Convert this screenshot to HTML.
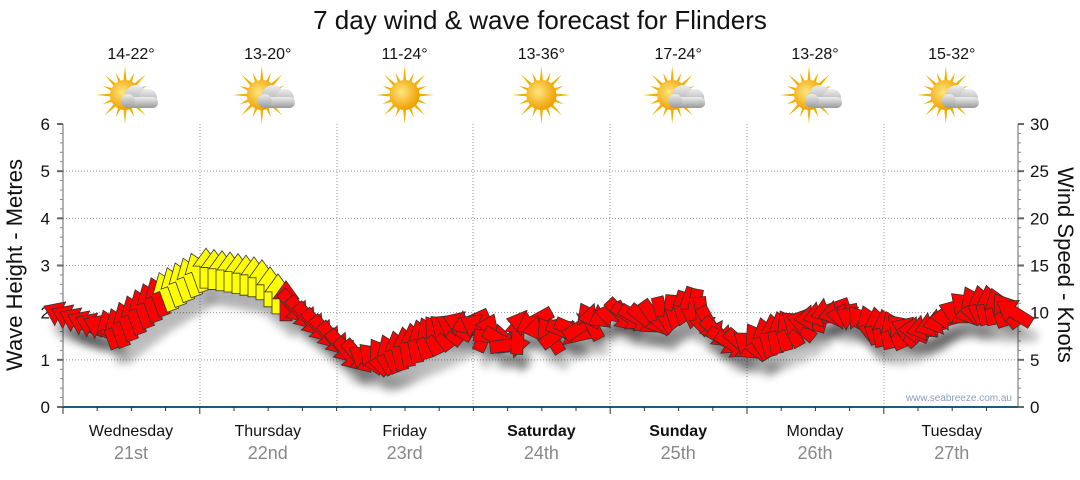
<!DOCTYPE html>
<html><head><meta charset="utf-8"><style>
body{margin:0;background:#fff;width:1080px;height:475px;overflow:hidden;font-family:"Liberation Sans",sans-serif}
</style></head><body>
<svg id="s" width="1080" height="475" xmlns="http://www.w3.org/2000/svg" font-family="Liberation Sans, sans-serif">
<defs>
<filter id="sh" x="-50%" y="-50%" width="200%" height="200%"><feGaussianBlur stdDeviation="4"/></filter>
<radialGradient id="sun" cx="0.4" cy="0.4" r="0.6"><stop offset="0" stop-color="#ffe680"/><stop offset="1" stop-color="#f0a000"/></radialGradient>
<linearGradient id="cl" x1="0" y1="0" x2="0" y2="1"><stop offset="0" stop-color="#eee"/><stop offset="1" stop-color="#999"/></linearGradient>
</defs>
<text x="540" y="29" font-size="26" text-anchor="middle" fill="#111">7 day wind &amp; wave forecast for Flinders</text>
<g id="g"></g>
</svg>
<script>
const g=document.getElementById('g');let h='';
const X0=63,X1=1018,Y0=407,Y6=124,py=(Y0-Y6)/6;
const days=[200,337,473,610,747,884];
for(let i=1;i<6;i++){const y=Y0-i*py;h+=`<line x1="${X0}" y1="${y}" x2="${X1}" y2="${y}" stroke="#999" stroke-dasharray="1,2"/>`;}
days.forEach(x=>h+=`<line x1="${x}" y1="${Y6}" x2="${x}" y2="${Y0}" stroke="#999" stroke-dasharray="1,2"/>`);
h+=`<line x1="${X0}" y1="${Y6}" x2="${X0}" y2="${Y0}" stroke="#666"/><line x1="${X1}" y1="${Y6}" x2="${X1}" y2="${Y0}" stroke="#666"/>`;
h+=`<line x1="${X0}" y1="${Y0}" x2="${X1}" y2="${Y0}" stroke="#1a5a80" stroke-width="2"/>`;
for(let i=0;i<=6;i++){const y=Y0-i*py;h+=`<text x="50" y="${y+6}" font-size="17" text-anchor="end" fill="#111">${i}</text><line x1="${X0-6}" y1="${y}" x2="${X0}" y2="${y}" stroke="#666" stroke-width="2"/>`;
h+=`<text x="1030" y="${y+6}" font-size="17" fill="#111">${i*5}</text><line x1="${X1}" y1="${y}" x2="${X1+6}" y2="${y}" stroke="#666" stroke-width="2"/>`;
if(i<6)for(let k=1;k<5;k++){const yy=y-k*py/5;h+=`<line x1="${X0-3}" y1="${yy}" x2="${X0}" y2="${yy}" stroke="#888"/><line x1="${X1}" y1="${yy}" x2="${X1+3}" y2="${yy}" stroke="#888"/>`;}}
for(let x=X0;x<=X1;x+=34.2)h+=`<line x1="${x}" y1="${Y0}" x2="${x}" y2="${Y0+(Math.abs(((x-X0)/136.8)%1)<0.05?7:4)}" stroke="#333"/>`;
h+=`<text transform="translate(22,265) rotate(-90)" font-size="22" text-anchor="middle" fill="#111">Wave Height - Metres</text>`;
h+=`<text transform="translate(1058,265) rotate(90)" font-size="22" text-anchor="middle" fill="#111">Wind Speed - Knots</text>`;
h+=`<text x="1012" y="401" font-size="10" text-anchor="end" fill="#8aa0c0">www.seabreeze.com.au</text>`;
const dn=['Wednesday','Thursday','Friday','Saturday','Sunday','Monday','Tuesday'],dd=['21st','22nd','23rd','24th','25th','26th','27th'],tp=['14-22°','13-20°','11-24°','13-36°','17-24°','13-28°','15-32°'],cloud=[1,1,0,0,1,1,1];
for(let i=0;i<7;i++){const cx=131+i*136.8;
h+=`<text x="${cx}" y="436" font-size="16" text-anchor="middle" fill="#111" ${i==3||i==4?'font-weight="bold"':''}>${dn[i]}</text>`;
h+=`<text x="${cx}" y="459" font-size="18" text-anchor="middle" fill="#888">${dd[i]}</text>`;
h+=`<text x="${cx}" y="59" font-size="16" text-anchor="middle" fill="#111">${tp[i]}</text>`;
const sx=cloud[i]?cx-6:cx,sy=95;
for(let a=0;a<16;a++){const an=a*Math.PI/8,r1=a%2?24:29;h+=`<polygon points="${sx+Math.cos(an-0.13)*13},${sy+Math.sin(an-0.13)*13} ${sx+Math.cos(an)*r1},${sy+Math.sin(an)*r1} ${sx+Math.cos(an+0.13)*13},${sy+Math.sin(an+0.13)*13}" fill="#f2b000"/>`;}
h+=`<circle cx="${sx}" cy="${sy}" r="15" fill="url(#sun)"/>`;
if(cloud[i])h+=`<g fill="url(#cl)"><circle cx="${cx+5}" cy="${sy+1}" r="11"/><circle cx="${cx+17}" cy="${sy+3}" r="9"/><rect x="${cx-8}" y="${sy+2}" width="35" height="11" rx="5"/><circle cx="${cx-3}" cy="${sy+6}" r="7"/></g>`;}
const P=[[55,312],[90,325],[115,330],[140,310],[160,295],[185,280],[205,268],[230,272],[260,278],[285,300],[310,320],[335,340],[350,355],[370,360],[395,352],[420,340],[445,330],[470,322],[490,335],[510,345],[530,318],[550,335],[575,330],[600,315],[620,315],[645,320],[670,315],[690,305],[710,325],[730,345],[750,345],[770,335],[800,325],[830,310],[860,322],[890,330],[920,330],[945,320],[970,305],[990,305],[1022,315]];
function yAt(x){for(let i=0;i<P.length-1;i++)if(x<=P[i+1][0]){const t=(x-P[i][0])/(P[i+1][0]-P[i][0]);return P[i][1]+t*(P[i+1][1]-P[i][1]);}return 315;}
const A='M-6,20 L6,20 L6,-2 L13,-2 L0,-20 L-13,-2 L-6,-2 Z';
let sh='',ar='';
for(let x=62;x<=1014;x+=8){const y=yAt(x);
let rot;if(x<110)rot=-65;else if(x<200)rot=-20;else if(x<290)rot=0;else if(x<360)rot=140;else if(x<470)rot=-40+Math.sin(x/20)*30;else if(x<620)rot=Math.sin(x/11)*120;else if(x<750)rot=160+Math.sin(x/15)*40;else rot=-60+Math.sin(x/17)*50;
const col=(x>158&&x<285)?'#ffff00':'#ff0000';
sh+=`<path d="${A}" transform="translate(${x+6},${y+16}) rotate(${rot})" fill="#000" opacity="0.22"/>`;
ar+=`<path d="${A}" transform="translate(${x},${y}) rotate(${rot})" fill="${col}" stroke="#333" stroke-width="0.8"/>`;}
h+=`<g filter="url(#sh)">${sh}</g>`+ar;
g.innerHTML=h;
</script>
</body></html>
